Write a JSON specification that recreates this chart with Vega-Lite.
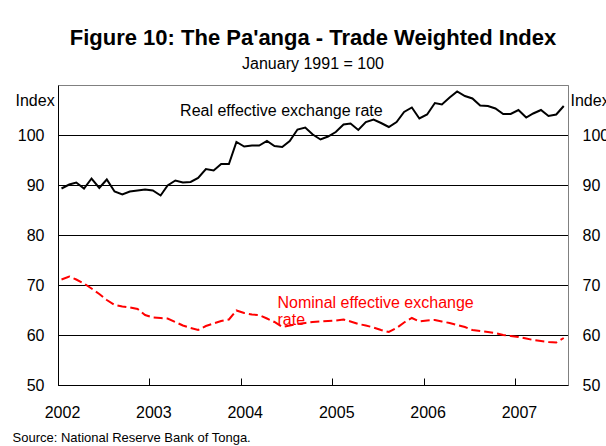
{
  "$schema": "https://vega.github.io/schema/vega-lite/v6.json",
  "autosize": "none",
  "padding": {"left": 58, "top": 85, "right": 38, "bottom": 61},
  "width": 510,
  "height": 300,
  "background": "white",
  "title": {
    "text": "Figure 10: The Pa'anga - Trade Weighted Index",
    "subtitle": "January 1991 = 100",
    "anchor": "middle",
    "fontSize": 22,
    "fontWeight": "bold",
    "color": "#000000",
    "subtitleFontSize": 16,
    "subtitleColor": "#000000",
    "subtitlePadding": 6,
    "offset": 12
  },
  "datasets": {
    "series": [
      {"date": "2002-01-15", "real": 89.3, "nominal": 71.1},
      {"date": "2002-02-15", "real": 90.1, "nominal": 71.7},
      {"date": "2002-03-15", "real": 90.5, "nominal": 71.1},
      {"date": "2002-04-15", "real": 89.3, "nominal": 70.3},
      {"date": "2002-05-15", "real": 91.3, "nominal": 69.3},
      {"date": "2002-06-15", "real": 89.4, "nominal": 68.2},
      {"date": "2002-07-15", "real": 91.1, "nominal": 67.0},
      {"date": "2002-08-15", "real": 88.7, "nominal": 66.0},
      {"date": "2002-09-15", "real": 88.1, "nominal": 65.7},
      {"date": "2002-10-15", "real": 88.7, "nominal": 65.5},
      {"date": "2002-11-15", "real": 88.9, "nominal": 65.2},
      {"date": "2002-12-15", "real": 89.1, "nominal": 64.0},
      {"date": "2003-01-15", "real": 88.9, "nominal": 63.5},
      {"date": "2003-02-15", "real": 87.9, "nominal": 63.4},
      {"date": "2003-03-15", "real": 89.9, "nominal": 63.3},
      {"date": "2003-04-15", "real": 90.9, "nominal": 62.6},
      {"date": "2003-05-15", "real": 90.5, "nominal": 61.9},
      {"date": "2003-06-15", "real": 90.6, "nominal": 61.4},
      {"date": "2003-07-15", "real": 91.4, "nominal": 61.0},
      {"date": "2003-08-15", "real": 93.2, "nominal": 61.8},
      {"date": "2003-09-15", "real": 92.9, "nominal": 62.3},
      {"date": "2003-10-15", "real": 94.2, "nominal": 62.8},
      {"date": "2003-11-15", "real": 94.2, "nominal": 63.1},
      {"date": "2003-12-15", "real": 98.6, "nominal": 64.9},
      {"date": "2004-01-15", "real": 97.7, "nominal": 64.4},
      {"date": "2004-02-15", "real": 97.9, "nominal": 64.1},
      {"date": "2004-03-15", "real": 97.9, "nominal": 64.0},
      {"date": "2004-04-15", "real": 98.8, "nominal": 63.3},
      {"date": "2004-05-15", "real": 97.8, "nominal": 62.6},
      {"date": "2004-06-15", "real": 97.6, "nominal": 61.6},
      {"date": "2004-07-15", "real": 98.8, "nominal": 61.9},
      {"date": "2004-08-15", "real": 101.1, "nominal": 62.2},
      {"date": "2004-09-15", "real": 101.5, "nominal": 62.4},
      {"date": "2004-10-15", "real": 100.1, "nominal": 62.6},
      {"date": "2004-11-15", "real": 99.1, "nominal": 62.7},
      {"date": "2004-12-15", "real": 99.7, "nominal": 62.8},
      {"date": "2005-01-15", "real": 100.6, "nominal": 62.9},
      {"date": "2005-02-15", "real": 102.1, "nominal": 63.1},
      {"date": "2005-03-15", "real": 102.3, "nominal": 62.7},
      {"date": "2005-04-15", "real": 101.0, "nominal": 62.2},
      {"date": "2005-05-15", "real": 102.6, "nominal": 61.9},
      {"date": "2005-06-15", "real": 103.1, "nominal": 61.5},
      {"date": "2005-07-15", "real": 102.4, "nominal": 61.0},
      {"date": "2005-08-15", "real": 101.6, "nominal": 60.6},
      {"date": "2005-09-15", "real": 102.6, "nominal": 61.4},
      {"date": "2005-10-15", "real": 104.6, "nominal": 62.5},
      {"date": "2005-11-15", "real": 105.5, "nominal": 63.4},
      {"date": "2005-12-15", "real": 103.3, "nominal": 62.7},
      {"date": "2006-01-15", "real": 104.1, "nominal": 62.9},
      {"date": "2006-02-15", "real": 106.4, "nominal": 63.0},
      {"date": "2006-03-15", "real": 106.1, "nominal": 62.7},
      {"date": "2006-04-15", "real": 107.5, "nominal": 62.4},
      {"date": "2006-05-15", "real": 108.7, "nominal": 62.0},
      {"date": "2006-06-15", "real": 107.8, "nominal": 61.6},
      {"date": "2006-07-15", "real": 107.3, "nominal": 61.0},
      {"date": "2006-08-15", "real": 105.9, "nominal": 60.8},
      {"date": "2006-09-15", "real": 105.8, "nominal": 60.6},
      {"date": "2006-10-15", "real": 105.3, "nominal": 60.4},
      {"date": "2006-11-15", "real": 104.2, "nominal": 60.0},
      {"date": "2006-12-15", "real": 104.2, "nominal": 59.8},
      {"date": "2007-01-15", "real": 105.0, "nominal": 59.6},
      {"date": "2007-02-15", "real": 103.5, "nominal": 59.3},
      {"date": "2007-03-15", "real": 104.3, "nominal": 59.0},
      {"date": "2007-04-15", "real": 105.0, "nominal": 58.8},
      {"date": "2007-05-15", "real": 103.8, "nominal": 58.6},
      {"date": "2007-06-15", "real": 104.1, "nominal": 58.5},
      {"date": "2007-07-15", "real": 105.8, "nominal": 59.4}
    ],
    "labels": [
      {"date": "2003-05-04", "value": 103.8, "text": "Real effective exchange rate", "series": "real"},
      {"date": "2004-05-27", "value": 65.5, "text": "Nominal effective exchange", "series": "nominal"},
      {"date": "2004-05-27", "value": 62.1, "text": "rate", "series": "nominal"}
    ]
  },
  "encoding": {
    "x": {
      "field": "date",
      "type": "temporal",
      "scale": {
        "type": "utc",
        "domain": [
          {"year": 2002, "month": 1, "date": 1, "utc": true},
          {"year": 2007, "month": 8, "date": 1, "utc": true}
        ]
      },
      "axis": {
        "values": [
          {"year": 2002, "month": 1, "date": 1, "utc": true},
          {"year": 2003, "month": 1, "date": 1, "utc": true},
          {"year": 2004, "month": 1, "date": 1, "utc": true},
          {"year": 2005, "month": 1, "date": 1, "utc": true},
          {"year": 2006, "month": 1, "date": 1, "utc": true},
          {"year": 2007, "month": 1, "date": 1, "utc": true}
        ],
        "format": "%Y",
        "formatType": "utc",
        "grid": false,
        "domainColor": "#000000",
        "domainWidth": 1,
        "ticks": true,
        "tickColor": "#000000",
        "tickSize": -7,
        "tickWidth": 1,
        "labelFontSize": 16,
        "labelColor": "#000000",
        "labelBaseline": "alphabetic",
        "labelPadding": 39,
        "labelOffset": 4,
        "labelFlush": false,
        "labelOverlap": false,
        "title": "Source: National Reserve Bank of Tonga.",
        "titleFontSize": 13,
        "titleFontWeight": "normal",
        "titleColor": "#000000",
        "titleAlign": "left",
        "titleAnchor": "start",
        "titleBaseline": "alphabetic",
        "titleX": -46,
        "titleY": 56
      }
    }
  },
  "layer": [
    {
      "data": {"name": "labels"},
      "mark": {"type": "text", "align": "left", "baseline": "alphabetic", "fontSize": 16},
      "encoding": {
        "y": {"field": "value", "type": "quantitative", "scale": {"domain": [50, 110], "nice": false, "zero": false}, "axis": null},
        "text": {"field": "text"},
        "color": {"field": "series", "type": "nominal", "scale": {"domain": ["real", "nominal"], "range": ["#000000", "#FF0000"]}, "legend": null}
      }
    },
    {
      "data": {"name": "series"},
      "mark": {"type": "line", "color": "#FF0000", "strokeWidth": 2, "strokeDash": [9, 4]},
      "encoding": {
        "y": {
          "field": "nominal",
          "type": "quantitative",
          "scale": {"domain": [50, 110], "nice": false, "zero": false},
          "axis": {
            "orient": "right",
            "values": [50, 60, 70, 80, 90, 100],
            "grid": false,
            "ticks": false,
            "domainColor": "#808080",
            "labelFontSize": 16,
            "labelColor": "#000000",
            "labelPadding": 14,
            "title": "Index",
            "titleAngle": 0,
            "titleFontSize": 16,
            "titleFontWeight": "normal",
            "titleColor": "#000000",
            "titleAlign": "left",
            "titleBaseline": "alphabetic",
            "titleX": 2,
            "titleY": 20
          }
        }
      }
    },
    {
      "data": {"name": "series"},
      "mark": {"type": "line", "color": "#000000", "strokeWidth": 2},
      "encoding": {
        "y": {
          "field": "real",
          "type": "quantitative",
          "scale": {"domain": [50, 110], "nice": false, "zero": false},
          "axis": {
            "orient": "left",
            "values": [50, 60, 70, 80, 90, 100],
            "grid": true,
            "gridColor": "#000000",
            "gridWidth": 1,
            "gridOpacity": 1,
            "ticks": false,
            "domainColor": "#000000",
            "labelFontSize": 16,
            "labelColor": "#000000",
            "labelPadding": 14,
            "title": "Index",
            "titleAngle": 0,
            "titleFontSize": 16,
            "titleFontWeight": "normal",
            "titleColor": "#000000",
            "titleAlign": "left",
            "titleBaseline": "alphabetic",
            "titleX": -43,
            "titleY": 20
          }
        }
      }
    }
  ],
  "resolve": {"scale": {"y": "shared"}, "axis": {"y": "independent"}},
  "config": {
    "font": "Liberation Sans",
    "view": {"stroke": "#808080", "strokeWidth": 1}
  }
}
